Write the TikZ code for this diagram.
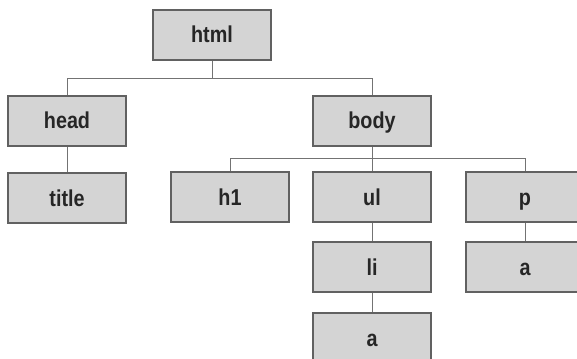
\documentclass[tikz,border=0pt]{standalone}
\usepackage{fontspec}
\setmainfont{Liberation Sans}[FakeStretch=0.86]
\begin{document}
\begin{tikzpicture}[x=1pt,y=-1pt,
  tagbox/.style={draw=black!62, line width=1.2pt, fill=black!17, minimum width=118pt, minimum height=50pt, inner sep=0pt, text height=16pt, text depth=0pt, font=\fontsize{23}{26}\selectfont\bfseries, text=black!85},
  link/.style={draw=black!55, line width=0.9pt}]
\useasboundingbox (0,0) rectangle (577,358);
\node[tagbox] (html) at (212,35) {html};
\node[tagbox] (head) at (67,121) {head};
\node[tagbox] (title) at (67,198) {title};
\node[tagbox] (body) at (372,121) {body};
\node[tagbox] (h1) at (230,197) {h1};
\node[tagbox] (ul) at (372,197) {ul};
\node[tagbox] (p) at (525,197) {p};
\node[tagbox] (li) at (372,267) {li};
\node[tagbox] (pa) at (525,267) {a};
\node[tagbox] (la) at (372,338) {a};
\coordinate (b1) at (0,78);
\coordinate (b2) at (0,158);
\draw[link] (html.south) -- (html.south |- b1) -| (head.north);
\draw[link] (html.south |- b1) -| (body.north);
\draw[link] (head.south) -- (title.north);
\draw[link] (body.south) -- (body.south |- b2) -| (h1.north);
\draw[link] (body.south |- b2) -| (p.north);
\draw[link] (body.south |- b2) -- (ul.north);
\draw[link] (ul.south) -- (li.north);
\draw[link] (li.south) -- (la.north);
\draw[link] (p.south) -- (pa.north);
\end{tikzpicture}
\end{document}
